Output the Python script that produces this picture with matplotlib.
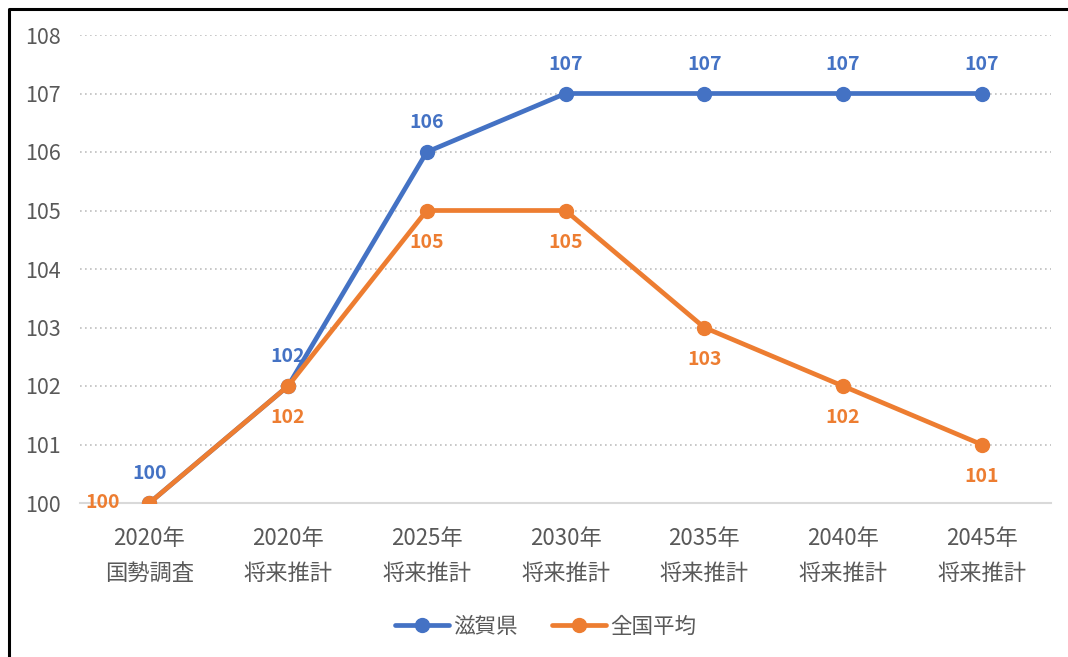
import matplotlib
matplotlib.use("Agg")
import matplotlib.pyplot as plt
from matplotlib.lines import Line2D

plt.rcParams['font.family'] = ['Noto Sans CJK JP', 'DejaVu Sans']

categories = ["2020年\n国勢調査", "2020年\n将来推計", "2025年\n将来推計", "2030年\n将来推計",
              "2035年\n将来推計", "2040年\n将来推計", "2045年\n将来推計"]
shiga = [100, 102, 106, 107, 107, 107, 107]
national = [100, 102, 105, 105, 103, 102, 101]
series_names = ["滋賀県", "全国平均"]
yticks = [100, 101, 102, 103, 104, 105, 106, 107, 108]

BLUE = "#4472C4"
ORANGE = "#ED7D31"
TXT = "#595959"

W, H = 1068, 657
fig = plt.figure(figsize=(W / 100, H / 100), dpi=100)
ax = fig.add_axes([80 / W, 1 - 503 / H, (1051 - 80) / W, (503 - 35) / H])

x = list(range(len(categories)))
ax.plot(x, shiga, color=BLUE, lw=3.4, marker='o', ms=10, label=series_names[0], zorder=3,
        solid_capstyle='round')
ax.plot(x, national, color=ORANGE, lw=3.4, marker='o', ms=10, label=series_names[1], zorder=4,
        solid_capstyle='round')

LFS = 14
for i, v in enumerate(shiga):
    ax.annotate(str(v), (i, v), xytext=(0, 21), textcoords='offset points', ha='center', va='center',
                color=BLUE, fontsize=LFS, fontweight='bold', zorder=5)
for i, v in enumerate(national):
    if i == 0:
        ax.annotate(str(v), (i, v), xytext=(-34, 0), textcoords='offset points', ha='center', va='center',
                    color=ORANGE, fontsize=LFS, fontweight='bold', zorder=5)
    else:
        ax.annotate(str(v), (i, v), xytext=(0, -23), textcoords='offset points', ha='center', va='center',
                    color=ORANGE, fontsize=LFS, fontweight='bold', zorder=5)

ax.set_xlim(-0.5, len(categories) - 0.5)
ax.set_ylim(100, 108)
ax.set_yticks(yticks)
ax.set_xticks(x)
ax.set_xticklabels(categories, fontsize=16, color=TXT, linespacing=1.7)
ax.set_yticklabels([str(t) for t in yticks], fontsize=15.5, color=TXT)
ax.tick_params(axis='both', length=0)
ax.tick_params(axis='x', pad=17)
ax.tick_params(axis='y', pad=14)
ax.yaxis.grid(True, linestyle=(0, (1, 2)), color="#BFBFBF", lw=1.2)
ax.set_axisbelow(True)
for s in ['top', 'right', 'left']:
    ax.spines[s].set_visible(False)
ax.spines['bottom'].set_color("#D9D9D9")
ax.spines['bottom'].set_linewidth(1.5)
ax.spines['bottom'].set_zorder(1)

leg = fig.legend(loc='center', bbox_to_anchor=(546 / W, 1 - 627 / H), ncol=2, frameon=False,
                 fontsize=15.5, handlelength=2.5, columnspacing=1.6, handletextpad=0.2)
for t in leg.get_texts():
    t.set_color(TXT)

# frame border
fig.add_artist(Line2D([9 / W, 9 / W, 1.0], [0.0, 1 - 9 / H, 1 - 9 / H], transform=fig.transFigure,
                      color='black', lw=2.2))

fig.savefig("out.png", dpi=100)
